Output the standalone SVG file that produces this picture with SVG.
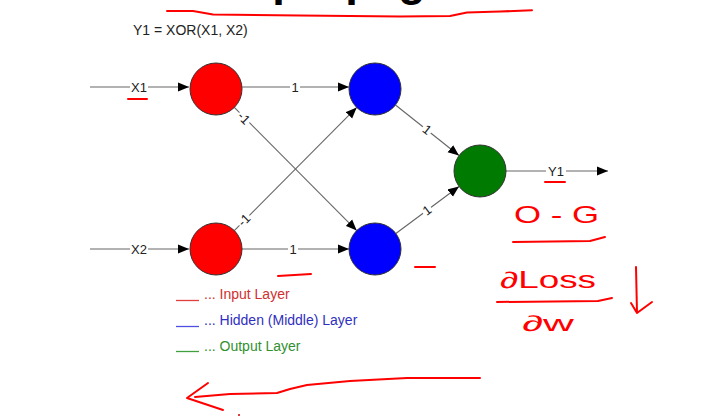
<svg xmlns="http://www.w3.org/2000/svg" width="717" height="419" viewBox="0 0 717 419">
<style>
.lbl{font-family:"Liberation Sans",Arial,sans-serif;font-size:13px;fill:#222;text-anchor:middle}
.edge{stroke:#666;stroke-width:1.1;fill:none}
.node{stroke:#333;stroke-width:1}
.bg{fill:#fff}
.ink{stroke:#f00;stroke-width:2;fill:none;stroke-linecap:round;stroke-linejoin:round}
.hand{font-family:"Liberation Sans",Arial,sans-serif;fill:#f00}
.leg{font-family:"Liberation Sans",Arial,sans-serif;font-size:14px}
</style>
<defs>
<marker id="ah" markerUnits="userSpaceOnUse" markerWidth="12" markerHeight="10" refX="11" refY="5" orient="auto">
<path d="M0,0.5 L11,5 L0,9.5 Z" fill="#000"/>
</marker>
</defs>
<rect width="717" height="419" fill="#fff"/>

<text x="164" y="-5" font-family="Liberation Sans,Arial,sans-serif" font-size="45.3" font-weight="bold" fill="#000">Backpropagation</text>

<text x="133" y="35" font-family="Liberation Sans,Arial,sans-serif" font-size="14" fill="#222">Y1 = XOR(X1, X2)</text>

<g id="connectors">
<line class="edge" x1="90" y1="87" x2="189" y2="87" marker-end="url(#ah)"/>
<line class="edge" x1="90" y1="249" x2="189" y2="249" marker-end="url(#ah)"/>
<line class="edge" x1="242" y1="87" x2="349" y2="87" marker-end="url(#ah)"/>
<line class="edge" x1="242" y1="249" x2="349" y2="249" marker-end="url(#ah)"/>
<line class="edge" x1="234.3" y1="107.4" x2="356.7" y2="230.6" marker-end="url(#ah)"/>
<line class="edge" x1="234.3" y1="230.6" x2="356.7" y2="107.4" marker-end="url(#ah)"/>
<line class="edge" x1="395.5" y1="105" x2="459" y2="155.5" marker-end="url(#ah)"/>
<line class="edge" x1="395.9" y1="233.5" x2="459" y2="186.5" marker-end="url(#ah)"/>
<line class="edge" x1="506" y1="171" x2="608" y2="171" marker-end="url(#ah)"/>

<rect class="bg" x="130" y="80" width="18" height="14"/>
<text class="lbl" x="139" y="91.5">X1</text>
<rect class="bg" x="130" y="242" width="18" height="14"/>
<text class="lbl" x="139" y="253.5">X2</text>
<rect class="bg" x="290" y="80" width="10" height="14"/>
<text class="lbl" x="295" y="91.5">1</text>
<rect class="bg" x="288" y="242" width="10" height="14"/>
<text class="lbl" x="293" y="253.5">1</text>
<rect class="bg" x="546" y="164" width="20" height="14"/>
<text class="lbl" x="556" y="175.5" font-size="14">Y1</text>

<g transform="translate(244,118) rotate(45)">
<rect class="bg" x="-7" y="-6" width="14" height="12"/>
<text class="lbl" x="0" y="4.5">-1</text>
</g>
<g transform="translate(244,220) rotate(-45)">
<rect class="bg" x="-7" y="-6" width="14" height="12"/>
<text class="lbl" x="0" y="4.5">-1</text>
</g>
<g transform="translate(427,129.6) rotate(38)">
<rect class="bg" x="-5" y="-6" width="10" height="12"/>
<text class="lbl" x="0" y="4.5">1</text>
</g>
<g transform="translate(427,210.3) rotate(-36.6)">
<rect class="bg" x="-5" y="-6" width="10" height="12"/>
<text class="lbl" x="0" y="4.5">1</text>
</g>
</g>

<g id="input1"><circle class="node" cx="216" cy="89" r="26" fill="#f00"/></g>
<g id="input2"><circle class="node" cx="216" cy="249" r="26" fill="#f00"/></g>
<g id="hidden1"><circle class="node" cx="375" cy="89" r="26" fill="#00f"/></g>
<g id="hidden2"><circle class="node" cx="375" cy="249" r="26" fill="#00f"/></g>
<g id="output"><circle class="node" cx="480" cy="171" r="26" fill="#007a00"/></g>

<g id="legend">
<line x1="176" y1="300.5" x2="199" y2="300.5" stroke="#e04040" stroke-width="1.3"/>
<text class="leg" x="204" y="299" fill="#d03030">... Input Layer</text>
<line x1="176" y1="326.5" x2="199" y2="326.5" stroke="#5050e0" stroke-width="1.3"/>
<text class="leg" x="204" y="325" fill="#3030c0">... Hidden (Middle) Layer</text>
<line x1="176" y1="351.5" x2="199" y2="351.5" stroke="#40a040" stroke-width="1.3"/>
<text class="leg" x="204" y="351" fill="#309030">... Output Layer</text>
</g>

<g id="annotations">
<path class="ink" d="M167,11 L193,11 L213,14.5 L300,15.5 L400,16.5 L450,16 L467,12.5 L500,11.5 L532,10.3"/>
<path class="ink" d="M128,99 L147,99"/>
<path class="ink" d="M278,276 L311,274"/>
<path class="ink" d="M415,267 L435,267"/>
<path class="ink" d="M545,182 L565,182"/>
<text class="hand" x="514" y="223" font-size="24" textLength="85" lengthAdjust="spacingAndGlyphs">O - G</text>
<path class="ink" d="M513,242 L590,241 L605,237"/>
<text class="hand" x="500" y="288" font-size="23" textLength="96" lengthAdjust="spacingAndGlyphs">∂Loss</text>
<path class="ink" d="M497,302 L598,301 L612,298"/>
<text class="hand" x="522" y="331" font-size="22" textLength="52" lengthAdjust="spacingAndGlyphs">∂w</text>
<path class="ink" d="M636,267 L637,313 M631,303 L637,313 L652,302"/>
<path class="ink" d="M480,378 L407,378 L350,381 L307,385 L290,389 L277,393 L230,394 L195,397"/>
<path class="ink" d="M208,383 L187,398 L223,410"/>
<circle cx="239" cy="415" r="1" fill="#c00"/>
</g>
</svg>
